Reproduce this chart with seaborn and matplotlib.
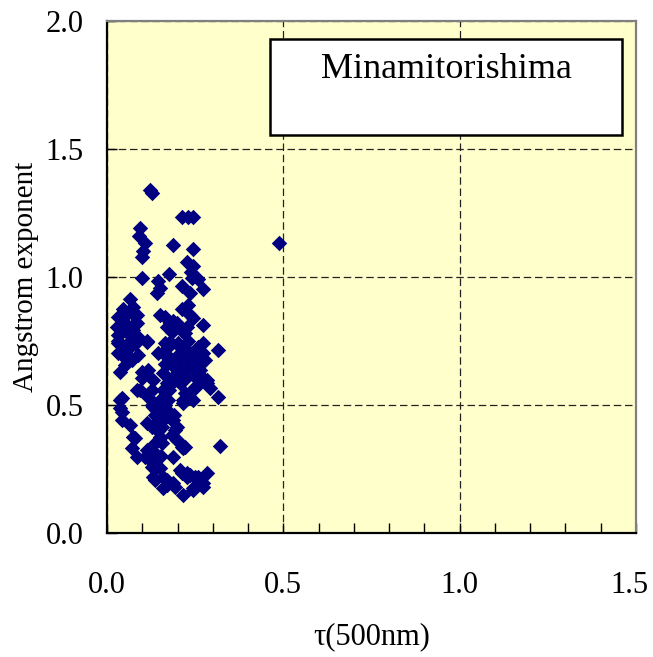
import numpy as np
import pandas as pd
import matplotlib
matplotlib.use("Agg")
import matplotlib.pyplot as plt
import matplotlib.transforms as mtransforms
import seaborn as sns
from matplotlib.patches import Rectangle
from matplotlib.ticker import MultipleLocator, FormatStrFormatter

# values
tau = [0.122, 0.127, 0.212, 0.229, 0.244, 0.093, 0.091, 0.108, 0.102, 0.099,
       0.187, 0.244, 0.227, 0.244, 0.238, 0.099, 0.176, 0.241, 0.258, 0.144,
       0.150, 0.142, 0.212, 0.235, 0.272, 0.065, 0.045, 0.074, 0.031, 0.085,
       0.051, 0.085, 0.028, 0.031, 0.065, 0.088, 0.113, 0.031, 0.059, 0.212,
       0.229, 0.235, 0.244, 0.150, 0.164, 0.178, 0.198, 0.184, 0.212, 0.221,
       0.272, 0.164, 0.201, 0.229, 0.272, 0.487, 0.187, 0.314, 0.244, 0.272,
       0.207, 0.255, 0.283, 0.263, 0.292, 0.314, 0.244, 0.215, 0.187, 0.193,
       0.198, 0.221, 0.320, 0.187, 0.212, 0.235, 0.258, 0.272, 0.244, 0.215,
       0.187, 0.037, 0.074, 0.170, 0.227, 0.031, 0.065, 0.113, 0.178, 0.207,
       0.037, 0.071, 0.159, 0.235, 0.173, 0.227, 0.263, 0.037, 0.116, 0.093,
       0.130, 0.159, 0.170, 0.207, 0.244, 0.283, 0.215, 0.037, 0.042, 0.042,
       0.122, 0.130, 0.142, 0.170, 0.184, 0.198, 0.144, 0.150, 0.184, 0.215,
       0.074, 0.071, 0.085, 0.113, 0.122, 0.142, 0.130, 0.159, 0.170, 0.207,
       0.227, 0.263, 0.272, 0.244, 0.031, 0.088, 0.099, 0.085, 0.127, 0.184,
       0.221, 0.249, 0.221, 0.249, 0.278, 0.278, 0.258, 0.212, 0.173, 0.144,
       0.042, 0.037, 0.065, 0.116, 0.127, 0.159, 0.136, 0.127, 0.156, 0.178,
       0.150, 0.198, 0.212, 0.079, 0.108, 0.136, 0.127, 0.150, 0.136, 0.170,
       0.159, 0.193, 0.227, 0.249, 0.283, 0.051, 0.059, 0.045, 0.079, 0.201,
       0.187, 0.164, 0.255, 0.136, 0.113, 0.099, 0.152, 0.190, 0.173, 0.205,
       0.045, 0.055, 0.070, 0.040, 0.060, 0.080, 0.050, 0.140, 0.150, 0.160,
       0.165, 0.145, 0.155, 0.175, 0.180, 0.195, 0.205, 0.220, 0.230, 0.250]
alpha = [1.340, 1.329, 1.236, 1.236, 1.236, 1.193, 1.162, 1.131, 1.103, 1.080,
         1.127, 1.111, 1.057, 1.045, 1.018, 0.998, 1.010, 0.998, 0.994, 0.986,
         0.959, 0.936, 0.963, 0.936, 0.955, 0.916, 0.877, 0.881, 0.842, 0.850,
         0.819, 0.819, 0.803, 0.772, 0.772, 0.764, 0.752, 0.741, 0.733, 0.877,
         0.889, 0.850, 0.838, 0.850, 0.842, 0.819, 0.819, 0.784, 0.791, 0.780,
         0.811, 0.741, 0.741, 0.752, 0.741, 1.134, 0.830, 0.715, 0.702, 0.702,
         0.674, 0.655, 0.596, 0.585, 0.565, 0.530, 0.519, 0.507, 0.441, 0.402,
         0.363, 0.335, 0.339, 0.296, 0.234, 0.226, 0.218, 0.195, 0.175, 0.148,
         0.195, 0.799, 0.795, 0.803, 0.803, 0.752, 0.752, 0.745, 0.745, 0.725,
         0.706, 0.674, 0.702, 0.702, 0.663, 0.635, 0.635, 0.628, 0.635, 0.557,
         0.596, 0.624, 0.585, 0.585, 0.557, 0.585, 0.519, 0.519, 0.472, 0.441,
         0.550, 0.491, 0.452, 0.468, 0.441, 0.413, 0.413, 0.374, 0.382, 0.331,
         0.374, 0.331, 0.296, 0.324, 0.285, 0.257, 0.218, 0.218, 0.187, 0.246,
         0.234, 0.207, 0.179, 0.168, 0.702, 0.694, 0.604, 0.557, 0.557, 0.585,
         0.635, 0.608, 0.546, 0.569, 0.596, 0.674, 0.725, 0.725, 0.725, 0.702,
         0.526, 0.487, 0.421, 0.530, 0.499, 0.557, 0.460, 0.413, 0.413, 0.468,
         0.370, 0.363, 0.335, 0.370, 0.296, 0.312, 0.257, 0.253, 0.207, 0.207,
         0.175, 0.179, 0.218, 0.218, 0.234, 0.655, 0.860, 0.690, 0.820, 0.640,
         0.610, 0.660, 0.680, 0.350, 0.430, 0.630, 0.300, 0.460, 0.520, 0.620,
         0.850, 0.790, 0.860, 0.780, 0.720, 0.740, 0.700, 0.480, 0.520, 0.440,
         0.500, 0.400, 0.350, 0.560, 0.680, 0.640, 0.700, 0.600, 0.680, 0.650]

df = pd.DataFrame({"tau": tau, "alpha": alpha})

plt.rcParams["font.family"] = ["Liberation Serif", "DejaVu Serif"]

fig = plt.figure(figsize=(6.53, 6.57), dpi=100)
ax = fig.add_axes([0.1639, 0.1887, 0.8101, 0.7793])
ax.set_facecolor("#FFFFCC")

sns.scatterplot(data=df, x="tau", y="alpha", marker="D", s=62,
                color="#000080", edgecolor="#000080", linewidth=0,
                ax=ax, zorder=3)

ax.set_xlim(0, 1.5)
ax.set_ylim(0, 2.0)
ax.xaxis.set_major_locator(MultipleLocator(0.5))
ax.xaxis.set_minor_locator(MultipleLocator(0.1))
ax.yaxis.set_major_locator(MultipleLocator(0.5))
ax.xaxis.set_major_formatter(FormatStrFormatter("%.1f"))
ax.yaxis.set_major_formatter(FormatStrFormatter("%.1f"))
ax.tick_params(axis="both", which="both", direction="in", length=7,
               width=1, labelsize=22, colors="black")
ax.tick_params(axis="x", which="major", pad=27)
ax.tick_params(axis="y", which="major", pad=17)

ax.grid(True, which="major", color="#222222", linestyle=(0, (6, 3)),
        linewidth=0.9, zorder=1)
ax.set_axisbelow(True)

for side in ["left", "bottom"]:
    ax.spines[side].set_color("black")
    ax.spines[side].set_linewidth(1.6)
for side in ["top", "right"]:
    ax.spines[side].set_color("#808080")
    ax.spines[side].set_linewidth(1.6)

ax.set_xlabel("τ(500nm)", fontsize=22, labelpad=16)
ax.set_ylabel("Angstrom exponent", fontsize=21)
ax.yaxis.set_label_coords(-0.128, 0.5)

ax.add_patch(Rectangle((0.308, 0.777), 0.666, 0.188, transform=ax.transAxes,
                       facecolor="white", edgecolor="black", linewidth=1.8,
                       zorder=4))
ax.text(0.641, 0.905, "Minamitorishima", transform=ax.transAxes,
        ha="center", va="center", fontsize=26, zorder=5)

# nudge the "1.5" label left so it stays inside the figure
fig.canvas.draw()
shift = mtransforms.ScaledTranslation(-7 / 100, 0, fig.dpi_scale_trans)
for lbl in ax.get_xticklabels():
    if lbl.get_text() == "1.5":
        lbl.set_transform(lbl.get_transform() + shift)

fig.savefig("out.png", dpi=100)
